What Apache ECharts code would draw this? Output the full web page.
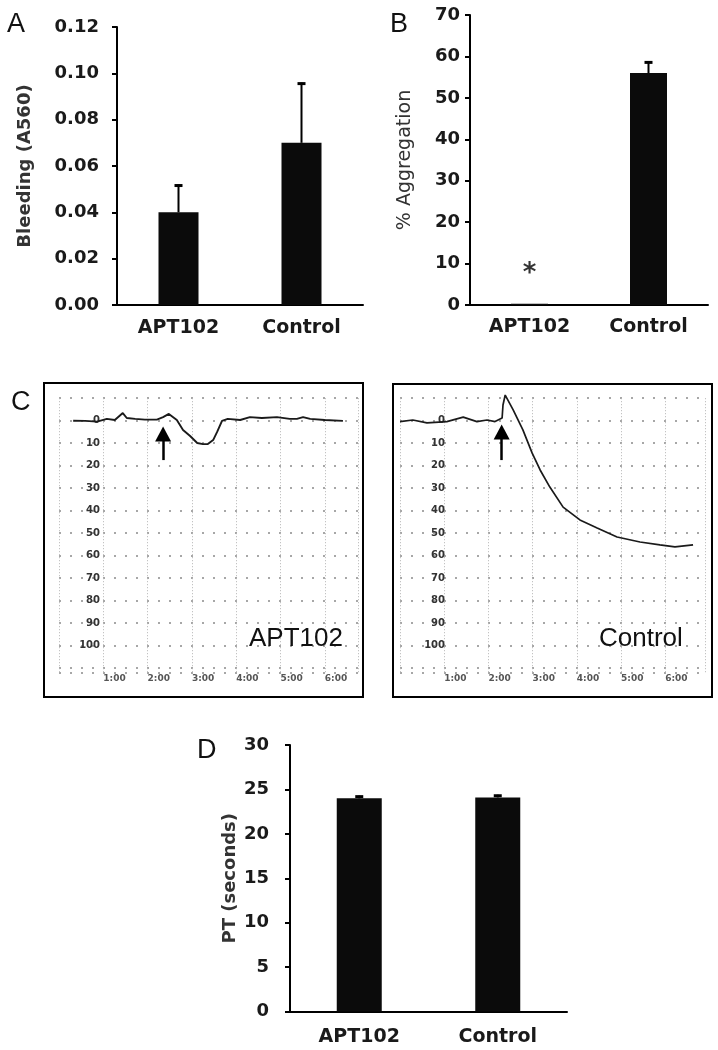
<!DOCTYPE html>
<html>
<head>
<meta charset="utf-8">
<script src="https://cdn.jsdelivr.net/npm/echarts@6/dist/echarts.min.js"></script>
<style>
html,body{margin:0;padding:0;background:#fff;}
#chart{width:718px;height:1050px;}
</style>
</head>
<body>
<div id="chart"></div>
<script>
// ---------- data ----------
const categories = ['APT102', 'Control'];

// Panel A: bleeding (A560)
const bleedMean = [0.040, 0.070];
const bleedUpper = [0.052, 0.096];

// Panel B: % aggregation
const aggMean = [0.3, 56.0];
const aggUpper = [null, 58.8];
const aggStar = [7.5, null];

// Panel C: aggregometry traces (time in minutes, % transmission, inverted)
const aptTime  = [0.32,0.59,0.86,1.08,1.26,1.44,1.53,1.72,1.94,2.21,2.35,2.48,2.66,2.80,2.96,3.12,3.25,3.36,3.48,3.57,3.68,3.81,4.09,4.31,4.58,4.92,5.21,5.37,5.51,5.67,6.00,6.41];
const aptValue = [0,0.1,0.4,-0.8,-0.3,-3.4,-1.2,-0.8,-0.5,-0.5,-1.6,-3.0,-0.3,4.1,6.8,9.9,10.4,10.4,8.6,5.0,0.1,-0.8,-0.3,-1.6,-1.2,-1.6,-0.8,-0.8,-1.6,-0.8,-0.3,0.1];
const ctrlTime  = [0,0.29,0.61,1.06,1.43,1.74,1.97,2.15,2.31,2.33,2.38,2.56,2.78,2.99,3.17,3.39,3.69,4.07,4.46,4.91,5.43,5.88,6.22,6.63];
const ctrlValue = [0.4,-0.3,1.0,0.4,-1.6,0.4,-0.3,0.4,-1.2,-7.0,-11.4,-4.8,4.1,14.4,21.9,29.5,38.4,44.1,47.7,51.7,53.9,55.2,56.1,55.2];
const aptArrow  = [2.35, 17.5, 5.9];   // time, shaft start, arrow head centre
const ctrlArrow = [2.30, 17.5, 5.0];
const traceTimeLabels = ['1:00','2:00','3:00','4:00','5:00','6:00'];

// Panel D: PT (seconds)
const ptMean = [24.0, 24.1];
const ptUpper = [24.3, 24.4];

// ---------- helpers ----------
const BOLD = 'DejaVu Sans';
function errData(mean, upper){
  const out = [];
  mean.forEach((m,i)=>{ if(upper[i]!=null) out.push([i, m, upper[i]]); });
  return out;
}
function errRender(params, api){
  const x = api.value(0), m = api.value(1), u = api.value(2);
  const p0 = api.coord([x, m]);
  const p1 = api.coord([x, u]);
  return {type:'group', children:[
    {type:'line', shape:{x1:p0[0],y1:p0[1],x2:p1[0],y2:p1[1]}, style:{stroke:'#000',lineWidth:2}},
    {type:'line', shape:{x1:p1[0]-4,y1:p1[1]+1,x2:p1[0]+4,y2:p1[1]+1}, style:{stroke:'#000',lineWidth:3}}
  ]};
}
function zip(a,b){ return a.map((v,i)=>[v,b[i]]); }

function barX(grid, margin){
  return {type:'category', gridIndex:grid, data:categories,
    axisLine:{lineStyle:{color:'#000',width:2}}, axisTick:{show:false},
    axisLabel:{color:'#1a1a1a', fontFamily:BOLD, fontWeight:'bold', fontSize:19, margin:margin}};
}
function barY(grid, min, max, interval, name, nameGap, nameBold, labelMargin, fmt){
  return {type:'value', gridIndex:grid, min:min, max:max, interval:interval,
    name:name, nameLocation:'middle', nameGap:nameGap,
    nameTextStyle:{color:'#333', fontFamily:BOLD, fontWeight:nameBold?'bold':'normal', fontSize:nameBold?18:19},
    axisLine:{show:true, lineStyle:{color:'#000',width:2}},
    axisTick:{show:true, length:5, lineStyle:{color:'#000',width:2}},
    splitLine:{show:false},
    axisLabel:{color:'#1a1a1a', fontFamily:BOLD, fontWeight:'bold', fontSize:18, margin:labelMargin, formatter:fmt}};
}
function traceX(grid, max){
  return {type:'value', gridIndex:grid, min:0, max:max, interval:1,
    axisLine:{show:false}, axisTick:{show:false},
    axisLabel:{align:'left', margin:1, fontSize:9, fontWeight:'bold', color:'#555', fontFamily:BOLD,
      formatter:v=> (v>=1 && v<=6) ? traceTimeLabels[v-1] : ''},
    splitLine:{show:true, lineStyle:{type:[1,2], color:'#b5b5b5', width:1}}};
}
function traceY(grid, offset){
  return {type:'value', gridIndex:grid, inverse:true, min:-10, max:112, interval:10, offset:offset,
    axisLine:{show:false}, axisTick:{show:false},
    axisLabel:{margin:4, fontSize:10, fontWeight:'bold', color:'#333', fontFamily:BOLD,
      formatter:v=> (v>=0 && v<=100) ? String(v) : ''},
    splitLine:{show:true, lineStyle:{type:[2,9], color:'#8a8a8a', width:1.5}}};
}
function frameAxes(grid){
  return [{type:'value', gridIndex:grid, show:false, min:0, max:1},
          {type:'value', gridIndex:grid, show:false, min:0, max:1}];
}
function arrowLine(a){
  return {silent:true, animation:false, symbol:['none','triangle'], symbolSize:[16,15],
    itemStyle:{color:'#000'},
    lineStyle:{color:'#000', width:2.5, type:'solid'}, label:{show:false},
    data:[[{coord:[a[0], a[1]]},{coord:[a[0], a[2]]}]]};
}

const fA = frameAxes(5), fB = frameAxes(6);

const option = {
  animation:false,
  backgroundColor:'#fff',
  title:[
    {text:'A', left:2, top:6, textStyle:{fontFamily:'Liberation Sans', fontWeight:'normal', fontSize:27, color:'#111'}},
    {text:'B', left:385, top:6, textStyle:{fontFamily:'Liberation Sans', fontWeight:'normal', fontSize:27, color:'#111'}},
    {text:'C', left:6, top:384, textStyle:{fontFamily:'Liberation Sans', fontWeight:'normal', fontSize:27, color:'#111'}},
    {text:'D', left:192, top:732, textStyle:{fontFamily:'Liberation Sans', fontWeight:'normal', fontSize:27, color:'#111'}},
    {text:'APT102', left:244, top:621, textStyle:{fontFamily:'Liberation Sans', fontWeight:'normal', fontSize:26, color:'#111'}},
    {text:'Control', left:594, top:621, textStyle:{fontFamily:'Liberation Sans', fontWeight:'normal', fontSize:26, color:'#111'}}
  ],
  grid:[
    {left:117, top:27, width:246, height:278},
    {left:470, top:15, width:238, height:290},
    {left:59, top:398.2, width:299, height:274.5},
    {left:400, top:398.2, width:305, height:274.5},
    {left:290, top:745, width:277, height:266.5},
    {left:44, top:383, width:319, height:314, show:true, borderColor:'#000', borderWidth:2, backgroundColor:'transparent'},
    {left:393, top:384, width:319, height:313, show:true, borderColor:'#000', borderWidth:2, backgroundColor:'transparent'}
  ],
  xAxis:[
    barX(0, 14),
    barX(1, 13),
    traceX(2, 6.75),
    traceX(3, 6.9),
    barX(4, 16),
    fA[0], fB[0]
  ],
  yAxis:[
    barY(0, 0, 0.12, 0.02, 'Bleeding (A560)', 83, true, 18, v=>v.toFixed(2)),
    barY(1, 0, 70, 10, '% Aggregation', 55, false, 10, v=>String(v)),
    traceY(2, -45),
    traceY(3, -49),
    barY(4, 0, 30, 5, 'PT (seconds)', 51, true, 21, v=>String(v)),
    fA[1], fB[1]
  ],
  series:[
    {type:'bar', xAxisIndex:0, yAxisIndex:0, data:bleedMean, barWidth:40, itemStyle:{color:'#0b0b0b'}},
    {type:'custom', xAxisIndex:0, yAxisIndex:0, data:errData(bleedMean, bleedUpper), renderItem:errRender, z:5},
    {type:'bar', xAxisIndex:1, yAxisIndex:1, data:aggMean, barWidth:37, itemStyle:{color:'#0b0b0b'}},
    {type:'custom', xAxisIndex:1, yAxisIndex:1, data:errData(aggMean, aggUpper), renderItem:errRender, z:5},
    {type:'scatter', xAxisIndex:1, yAxisIndex:1, symbolSize:0,
      data:aggStar.map((v,i)=> v==null ? null : [i, v]).filter(d=>d),
      label:{show:true, position:'inside', formatter:'*', fontFamily:BOLD, fontWeight:'bold', fontSize:26, color:'#000'}},
    {type:'line', xAxisIndex:2, yAxisIndex:2, data:zip(aptTime, aptValue), showSymbol:false, clip:false,
      lineStyle:{color:'#1a1a1a', width:1.9}, markLine:arrowLine(aptArrow)},
    {type:'line', xAxisIndex:3, yAxisIndex:3, data:zip(ctrlTime, ctrlValue), showSymbol:false, clip:false,
      lineStyle:{color:'#1a1a1a', width:1.7}, markLine:arrowLine(ctrlArrow)},
    {type:'bar', xAxisIndex:4, yAxisIndex:4, data:ptMean, barWidth:45, itemStyle:{color:'#0b0b0b'}},
    {type:'custom', xAxisIndex:4, yAxisIndex:4, data:errData(ptMean, ptUpper), renderItem:errRender, z:5},
    {type:'line', xAxisIndex:5, yAxisIndex:5, data:[]},
    {type:'line', xAxisIndex:6, yAxisIndex:6, data:[]}
  ]
};
const chart = echarts.init(document.getElementById('chart'), null, {renderer:'canvas'});
chart.setOption(option);
</script>
</body>
</html>
